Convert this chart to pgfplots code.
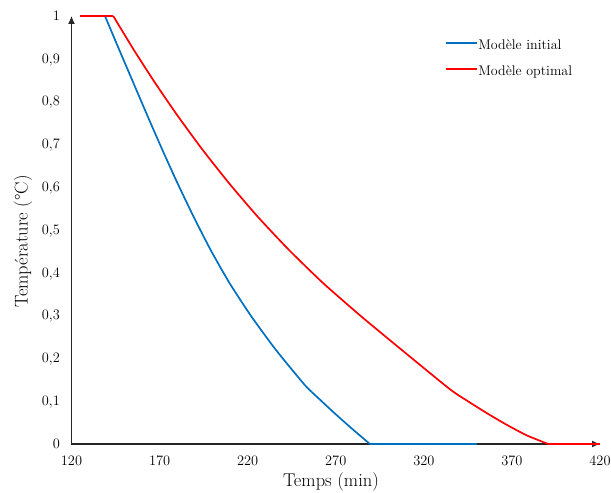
\documentclass[border=0pt]{standalone}
\usepackage{fontspec}
\usepackage{pgfplots}
\pgfplotsset{compat=1.18}
\usetikzlibrary{arrows.meta}
\definecolor{cblue}{HTML}{0070C0}
\definecolor{cred}{HTML}{FF0000}
\definecolor{axgray}{HTML}{262626}
\begin{document}
\begin{tikzpicture}
\begin{axis}[
  at={(0,0)}, anchor=south west,
  scale only axis, width=528.5pt, height=428pt,
  xmin=120, xmax=420, ymin=0, ymax=1,
  axis lines=left,
  axis line style={axgray, line width=1.1pt, -{Latex[length=8pt,width=7pt]}},
  xtick={120,170,220,270,320,370,420},
  ytick={0,0.1,0.2,0.3,0.4,0.5,0.6,0.7,0.8,0.9,1},
  major tick length=0pt,
  tick style={draw=none},
  tick label style={font=\fontsize{13.5}{16}\selectfont},
  /pgf/number format/use comma,
  xticklabel style={anchor=base, yshift=-22pt},
  yticklabel style={anchor=base east, yshift=-4.4pt, xshift=-8pt},
  xlabel={Temps (min)}, ylabel={Température (°C)},
  label style={font=\fontsize{18.5}{22}\selectfont},
  xlabel style={at={(axis description cs:0.491,-0.0998)}, anchor=base},
  ylabel style={at={(axis description cs:-0.0918,0.473)}, anchor=center},
  clip=false,
]
% Modele initial
\addplot[cblue, line width=1.7pt] coordinates {(125,1) (139,1)};
\addplot[cblue, line width=1.7pt, smooth, tension=0.35] coordinates {
(139,1) (147,0.922) (155.1,0.844) (163.2,0.766) (171.5,0.688) (180.1,0.61)
(189.2,0.532) (198.9,0.454) (209.7,0.376) (222.1,0.298) (236,0.22) (252.4,0.138)
(261.2,0.103) (270.1,0.069) (279.7,0.034) (289.4,0)
};
\addplot[cblue, line width=1.7pt] coordinates {(289.4,0) (350.4,0)};
% Modele optimal
\addplot[cred, line width=1.7pt] coordinates {(125,1) (143.7,1)};
\addplot[cred, line width=1.7pt, smooth, tension=0.35] coordinates {
(143.7,1) (155.2,0.922) (167.4,0.844) (180.4,0.766) (194.3,0.688) (209.3,0.61)
(225.5,0.532) (243.3,0.454) (262.8,0.376) (284.5,0.298) (307.4,0.22) (334.8,0.128)
(345,0.1) (356.2,0.071) (367,0.045) (378.5,0.02) (390.6,0)
};
\addplot[cred, line width=1.7pt] coordinates {(390.6,0) (420,0)};
% legend
\draw[cblue, line width=1.7pt] (axis description cs:0.7086,0.9362) -- (axis description cs:0.7673,0.9362);
\node[anchor=base west, inner sep=0pt, font=\fontsize{14}{16}\selectfont] at (axis description cs:0.7696,0.9206) {Modèle initial};
\draw[cred, line width=1.7pt] (axis description cs:0.7086,0.8762) -- (axis description cs:0.7673,0.8762);
\node[anchor=base west, inner sep=0pt, font=\fontsize{14}{16}\selectfont] at (axis description cs:0.7696,0.8614) {Modèle optimal};
\end{axis}
\pgfresetboundingbox
\useasboundingbox (-71.5pt,-49pt) rectangle (539.5pt,444pt);
\end{tikzpicture}
\end{document}
